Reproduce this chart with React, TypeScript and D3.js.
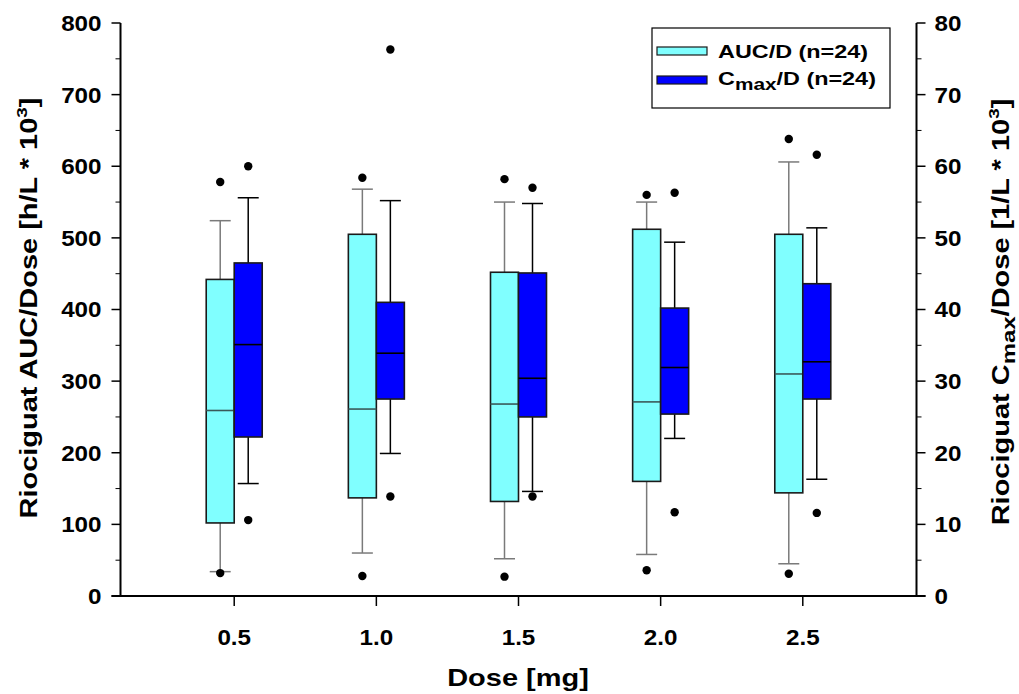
import React from "react";
import * as d3 from "d3";

const doses = [0.5, 1.0, 1.5, 2.0, 2.5];
const xTickLabels = ["0.5", "1.0", "1.5", "2.0", "2.5"];

// AUC/D (left axis, h/L * 10^3)
const aucQ1 = [102, 137, 132, 160, 144];
const aucMedian = [259, 261, 268, 271, 310];
const aucQ3 = [442, 505, 452, 512, 505];
const aucWhiskerLow = [34, 60, 52, 58, 45];
const aucWhiskerHigh = [524, 568, 550, 550, 606];
const aucOutliers = [[578, 32], [584, 28], [582, 27], [560, 36], [638, 31]];

// Cmax/D (right axis, 1/L * 10^3)
const cmaxQ1 = [22.2, 27.5, 25.0, 25.4, 27.5];
const cmaxMedian = [35.1, 33.9, 30.4, 31.9, 32.7];
const cmaxQ3 = [46.5, 41.0, 45.1, 40.2, 43.6];
const cmaxWhiskerLow = [15.7, 19.9, 14.6, 22.0, 16.3];
const cmaxWhiskerHigh = [55.6, 55.2, 54.8, 49.4, 51.4];
const cmaxOutliers = [[60.0, 10.6], [76.3, 13.9], [57.0, 13.9], [56.3, 11.7], [61.6, 11.6]];

const leftTicks = [0, 100, 200, 300, 400, 500, 600, 700, 800];
const rightTicks = [0, 10, 20, 30, 40, 50, 60, 70, 80];

const FONT = "'Liberation Sans', Arial, Helvetica, sans-serif";

function SText(props: {
  x: number; y: number; sx: number; rotate?: number; size: number;
  anchor?: "start" | "middle" | "end"; dy?: string; children: React.ReactNode;
}) {
  const { x, y, sx, rotate = 0, size, anchor = "start", dy, children } = props;
  return (
    <g transform={`translate(${x},${y}) rotate(${rotate}) scale(${sx},1)`}>
      <text x={0} y={0} dy={dy} textAnchor={anchor} fontSize={size} fontWeight="bold">{children}</text>
    </g>
  );
}

export default function App() {
  const W = 1019, H = 694;
  const x = d3.scaleLinear().domain([0.1, 2.9]).range([120.5, 916.5]);
  const yL = d3.scaleLinear().domain([0, 800]).range([596, 23]);
  const yR = d3.scaleLinear().domain([0, 80]).range([596, 23]);
  const left = x.range()[0], right = x.range()[1];
  const bw = 28;
  const capW = 21;

  const minorL = d3.range(50, 800, 100);
  const minorR = d3.range(5, 80, 10);

  const boxGroup = (
    i: number,
    y: d3.ScaleLinear<number, number>,
    q1: number[], med: number[], q3: number[], wl: number[], wh: number[], outs: number[][],
    x0: number, fill: string, whiskerColor: string, medColor: string
  ) => {
    const cx = x0 + bw / 2;
    return (
      <g key={fill + i}>
        <line x1={cx} x2={cx} y1={y(wh[i])} y2={y(q3[i])} stroke={whiskerColor} strokeWidth={1.5} />
        <line x1={cx} x2={cx} y1={y(q1[i])} y2={y(wl[i])} stroke={whiskerColor} strokeWidth={1.5} />
        <line x1={cx - capW / 2} x2={cx + capW / 2} y1={y(wh[i])} y2={y(wh[i])} stroke={whiskerColor} strokeWidth={1.5} />
        <line x1={cx - capW / 2} x2={cx + capW / 2} y1={y(wl[i])} y2={y(wl[i])} stroke={whiskerColor} strokeWidth={1.5} />
        <rect x={x0} y={y(q3[i])} width={bw} height={y(q1[i]) - y(q3[i])} fill={fill} stroke="#1a1a1a" strokeWidth={1.6} />
        <line x1={x0} x2={x0 + bw} y1={y(med[i])} y2={y(med[i])} stroke={medColor} strokeWidth={1.6} />
        {outs[i].map((v, k) => (
          <circle key={k} cx={cx} cy={y(v)} r={4.2} fill="#000" />
        ))}
      </g>
    );
  };

  const tickSize = 22, tickSx = 1.1;
  const titleSize = 23, titleSx = 1.26;

  return (
    <svg width={W} height={H} style={{ position: "absolute", left: 0, top: 0, background: "#fff" }} fontFamily={FONT}>
      <rect x={0} y={0} width={W} height={H} fill="#fff" />
      {/* boxes */}
      {doses.map((d, i) => boxGroup(i, yL, aucQ1, aucMedian, aucQ3, aucWhiskerLow, aucWhiskerHigh, aucOutliers, x(d) - bw, "#80FFFF", "#7a7a7a", "#3a5a5a"))}
      {doses.map((d, i) => boxGroup(i, yR, cmaxQ1, cmaxMedian, cmaxQ3, cmaxWhiskerLow, cmaxWhiskerHigh, cmaxOutliers, x(d), "#0000FF", "#000", "#000"))}

      {/* axes */}
      <line x1={left - 9} x2={right + 9} y1={596} y2={596} stroke="#000" strokeWidth={2} />
      <line x1={left} x2={left} y1={23} y2={597} stroke="#000" strokeWidth={2} />
      <line x1={right} x2={right} y1={23} y2={597} stroke="#000" strokeWidth={2} />
      {leftTicks.map((t) => (
        <g key={"lt" + t}>
          <line x1={left - 9} x2={left} y1={yL(t)} y2={yL(t)} stroke="#000" strokeWidth={1.5} />
          <SText x={left - 19} y={yL(t)} dy="0.36em" anchor="end" size={tickSize} sx={tickSx}>{t}</SText>
        </g>
      ))}
      {minorL.map((t) => (
        <line key={"lm" + t} x1={left - 5} x2={left} y1={yL(t)} y2={yL(t)} stroke="#000" strokeWidth={1} />
      ))}
      {rightTicks.map((t) => (
        <g key={"rt" + t}>
          <line x1={right} x2={right + 9} y1={yR(t)} y2={yR(t)} stroke="#000" strokeWidth={1.5} />
          <SText x={right + 18} y={yR(t)} dy="0.36em" anchor="start" size={tickSize} sx={tickSx}>{t}</SText>
        </g>
      ))}
      {minorR.map((t) => (
        <line key={"rm" + t} x1={right} x2={right + 5} y1={yR(t)} y2={yR(t)} stroke="#000" strokeWidth={1} />
      ))}
      {doses.map((d, i) => (
        <g key={"xt" + i}>
          <line x1={x(d)} x2={x(d)} y1={596} y2={606} stroke="#000" strokeWidth={1.5} />
          <SText x={x(d)} y={645} anchor="middle" size={tickSize} sx={tickSx}>{xTickLabels[i]}</SText>
        </g>
      ))}

      {/* axis titles */}
      <SText x={518} y={686} anchor="middle" size={titleSize} sx={titleSx}>Dose [mg]</SText>
      <SText x={37} y={308} rotate={-90} anchor="middle" size={titleSize} sx={titleSx}>
        Riociguat AUC/Dose [h/L * 10<tspan dy={-10} fontSize={15}>3</tspan><tspan dy={10}>]</tspan>
      </SText>
      <SText x={1009} y={312} rotate={-90} anchor="middle" size={titleSize} sx={titleSx}>
        Riociguat C<tspan dy={6} fontSize={19}>max</tspan><tspan dy={-6}>/Dose [1/L * 10</tspan><tspan dy={-10} fontSize={15}>3</tspan><tspan dy={10}>]</tspan>
      </SText>

      {/* legend */}
      <rect x={652} y={28} width={238} height={80} fill="#fff" stroke="#000" strokeWidth={1.2} />
      <rect x={657} y={47} width={50} height={8} fill="#80FFFF" stroke="#1a1a1a" strokeWidth={1.2} />
      <rect x={657} y={76} width={50} height={8} fill="#0000FF" stroke="#1a1a1a" strokeWidth={1.2} />
      <SText x={718} y={58} size={18} sx={1.3}>AUC/D (n=24)</SText>
      <SText x={718} y={85} size={18} sx={1.3}>
        C<tspan dy={5} fontSize={16}>max</tspan><tspan dy={-5}>/D (n=24)</tspan>
      </SText>
    </svg>
  );
}
